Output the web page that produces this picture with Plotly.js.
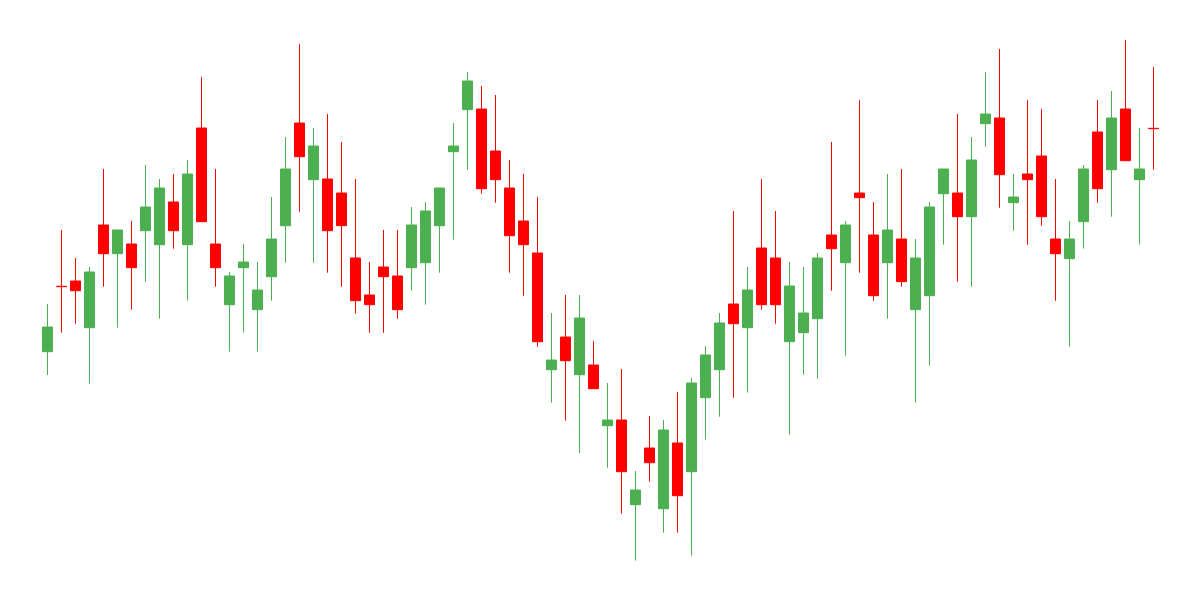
<!DOCTYPE html>
<html>
<head>
<meta charset="utf-8">
<script src="https://cdn.plot.ly/plotly-3.0.1.min.js"></script>
<style>html,body{margin:0;padding:0;background:#fff;}#chart{width:1200px;height:600px;}</style>
</head>
<body>
<div id="chart"></div>
<script>
const openVals = [248.3,313.7,319,272.3,375,346.3,356,369.3,355.3,398,355.3,472,356,295.3,332.3,290.3,323.3,374.3,477,420.3,
  421,407,342,305,333,324,332.3,337.3,374.3,448.3,490.3,491,449,412,379,347,230.3,263,225.3,235,
  174.3,180,95.3,152,91.3,157,128.3,202.3,230.3,296,272.3,352,342,258.3,267.3,281.3,365,337.3,407,365,
  337.3,361,290.3,304.3,406.3,407,383.3,476.3,482,397.3,426,444,361,341.3,378.3,468,430.3,491,420.3,471.7];
const highVals = [296,370,342,333,431,370,379,435,421,426,440,523,431,328,356,338,403,463,556,472,
  486,458,421,338,370,370,393,398,412,477,528,514,505,440,426,403,287,305,305,259,
  217,231,129,184,180,208,222,254,287,389,333,421,389,338,333,347,458,379,500,398,
  426,431,361,398,431,486,463,528,551,426,500,491,421,379,435,500,509,560,472,533];
const lowVals = [225,267.3,276.3,216.3,313.3,272.3,290.3,318.3,281.3,351.3,299.3,378.3,313.3,248.3,267.3,248.3,299.3,337.3,388.3,337.3,
  327.3,313.3,286.3,267.3,267.3,281.3,309.3,295.3,327.3,360.3,430.3,406.3,397.3,327.3,304.3,253.3,197.3,179.3,147,211.3,
  132.3,86.3,39.3,118.3,67.3,67.3,44.3,160.3,183.3,202.3,207.3,290.3,276.3,165.3,225.3,221.3,309.3,244.3,327.3,299.3,
  281.3,313.3,197.3,234.3,355.3,318.3,313.3,453.3,392.3,369.3,355.3,374.3,299.3,253.3,351.3,397.3,383.3,439.3,355.3,430.3];
const closeVals = [273,313.4,309.3,328,346.3,370,332.3,393,412,369.3,426,378.3,332.3,324,338,310,361,431,443.3,454,
  369.3,374.3,299.3,295.3,323.3,290.3,375,389,412,454,519,411.3,420.3,364.3,355.3,258.3,240,239.3,282,211.3,
  180,128.3,110,137.3,170,104.3,217,245,277,276.3,310,295.3,295.3,314,287,342,351.3,375,402.3,304.3,
  370,318.3,342,393,431,383.3,440,486,425.3,403,420.3,383.3,346.3,361,431,411.3,482,439.3,431,471.4];

const trace = {
  type: 'candlestick',
  open: openVals, high: highVals, low: lowVals, close: closeVals,
  increasing: {line: {color: '#4CAF50', width: 1}, fillcolor: '#4CAF50'},
  decreasing: {line: {color: '#FF0000', width: 1}, fillcolor: '#FF0000'},
  whiskerwidth: 0,
  hoverinfo: 'none'
};
const layout = {
  width: 1200, height: 600,
  margin: {l: 0, r: 0, t: 0, b: 0},
  paper_bgcolor: '#ffffff', plot_bgcolor: '#ffffff',
  showlegend: false,
  boxgap: 0.286,
  boxgroupgap: 0,
  xaxis: {visible: false, range: [-47.5/14, (1200-47.5)/14], rangeslider: {visible: false}, fixedrange: true},
  yaxis: {visible: false, range: [0, 600], fixedrange: true}
};
Plotly.newPlot('chart', [trace], layout, {displayModeBar: false, staticPlot: true});
</script>
</body>
</html>
